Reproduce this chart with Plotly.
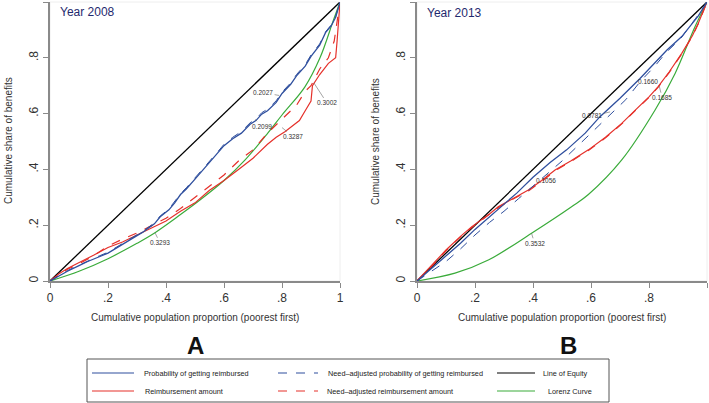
import plotly.graph_objects as go

W, H = 709, 403

# ---- Panel A: 2008 ----
eq_p = [0, 1]
eq_v = [0, 1]

a_lorenz_p = [0, 0.1, 0.2, 0.3, 0.362, 0.45, 0.517, 0.6, 0.672, 0.747, 0.8, 0.879, 0.931, 0.977, 1]
a_lorenz_v = [0, 0.035, 0.08, 0.135, 0.173, 0.238, 0.29, 0.36, 0.433, 0.525, 0.595, 0.696, 0.80, 0.934, 1]

a_prob_p = [0, 0.03, 0.06, 0.1, 0.13, 0.17, 0.2, 0.24, 0.28, 0.32, 0.36, 0.38, 0.41, 0.43, 0.45, 0.47,
            0.5, 0.53, 0.55, 0.58, 0.6, 0.63, 0.66, 0.69, 0.71, 0.73, 0.75, 0.78, 0.8, 0.83, 0.85,
            0.88, 0.9, 0.93, 0.95, 0.97, 0.985, 1]
a_prob_v = [0, 0.018, 0.035, 0.055, 0.07, 0.087, 0.1, 0.125, 0.15, 0.175, 0.205, 0.23, 0.255, 0.28, 0.31, 0.33,
            0.365, 0.4, 0.425, 0.46, 0.485, 0.51, 0.53, 0.562, 0.575, 0.598, 0.61, 0.64, 0.672, 0.705, 0.735,
            0.77, 0.805, 0.845, 0.89, 0.915, 0.945, 1]

a_prob_adj_v = [0, 0.02, 0.037, 0.057, 0.072, 0.09, 0.103, 0.128, 0.153, 0.178, 0.208, 0.233, 0.258, 0.284, 0.313, 0.334,
                0.369, 0.404, 0.43, 0.465, 0.49, 0.515, 0.536, 0.567, 0.58, 0.603, 0.616, 0.646, 0.677, 0.71, 0.74,
                0.775, 0.81, 0.85, 0.893, 0.918, 0.948, 1]

a_reimb_p = [0, 0.03, 0.06, 0.1, 0.15, 0.2, 0.25, 0.3, 0.35, 0.4, 0.45, 0.5, 0.55, 0.6, 0.65, 0.7, 0.75,
             0.78, 0.81, 0.83, 0.86, 0.88, 0.9, 0.905, 0.93, 0.96, 0.985, 0.99, 1]
a_reimb_v = [0, 0.025, 0.045, 0.065, 0.092, 0.12, 0.14, 0.165, 0.19, 0.215, 0.25, 0.28, 0.325, 0.36, 0.4, 0.44, 0.49,
             0.515, 0.535, 0.55, 0.575, 0.61, 0.645, 0.7, 0.74, 0.78, 0.8, 0.86, 1]

a_reimb_adj_p = [0, 0.03, 0.06, 0.1, 0.15, 0.2, 0.25, 0.3, 0.35, 0.4, 0.45, 0.5, 0.55, 0.6, 0.65, 0.7, 0.75,
                 0.8, 0.85, 0.88, 0.9, 0.93, 0.96, 0.98, 1]
a_reimb_adj_v = [0, 0.022, 0.042, 0.062, 0.09, 0.125, 0.15, 0.172, 0.2, 0.225, 0.26, 0.3, 0.34, 0.38, 0.43, 0.47, 0.53,
                 0.58, 0.63, 0.68, 0.70, 0.76, 0.80, 0.86, 1]

# ---- Panel B: 2013 ----
b_lorenz_p = [0, 0.131, 0.246, 0.395, 0.533, 0.591, 0.706, 0.821, 0.89, 0.959, 1]
b_lorenz_v = [0, 0.028, 0.075, 0.171, 0.266, 0.31, 0.434, 0.613, 0.744, 0.912, 1]

b_prob_p = [0, 0.05, 0.1, 0.15, 0.2, 0.25, 0.3, 0.344, 0.4, 0.459, 0.516, 0.58, 0.631, 0.7, 0.769,
            0.82, 0.862, 0.913, 0.97, 1]
b_prob_v = [0, 0.045, 0.09, 0.135, 0.185, 0.23, 0.275, 0.315, 0.372, 0.425, 0.47, 0.53, 0.589, 0.655, 0.726,
            0.78, 0.828, 0.876, 0.95, 1]

b_prob_adj_p = [0, 0.05, 0.1, 0.15, 0.2, 0.25, 0.3, 0.35, 0.4, 0.45, 0.5, 0.55, 0.6, 0.666, 0.72, 0.77,
                0.82, 0.86, 0.91, 0.96, 1]
b_prob_adj_v = [0, 0.035, 0.07, 0.115, 0.165, 0.21, 0.25, 0.295, 0.34, 0.385, 0.43, 0.48, 0.53, 0.595, 0.65, 0.715,
                0.77, 0.82, 0.87, 0.94, 1]

b_reimb_p = [0, 0.05, 0.1, 0.15, 0.189, 0.25, 0.28, 0.33, 0.384, 0.43, 0.476, 0.53, 0.591, 0.65, 0.706,
             0.75, 0.8, 0.831, 0.87, 0.913, 0.95, 0.97, 1]
b_reimb_v = [0, 0.055, 0.111, 0.16, 0.195, 0.24, 0.266, 0.295, 0.326, 0.36, 0.398, 0.43, 0.47, 0.515, 0.565,
             0.61, 0.66, 0.696, 0.75, 0.816, 0.88, 0.924, 1]
b_reimb_adj_v = [0, 0.052, 0.108, 0.158, 0.192, 0.238, 0.263, 0.293, 0.323, 0.357, 0.395, 0.428, 0.468, 0.513, 0.563,
                 0.608, 0.658, 0.694, 0.748, 0.814, 0.878, 0.922, 1]

tick_vals = [0, 0.2, 0.4, 0.6, 0.8, 1]
tick_text = ["0", ".2", ".4", ".6", ".8", "1"]

BLUE = "#2f4f9e"
RED = "#e5302a"
GREEN = "#3aab3a"
BLACK = "#000000"

fig = go.Figure()


def add_panel(xa, ya, lor_p, lor_v, prob_p, prob_v, prob_adj_p, prob_adj_v,
              reimb_p, reimb_v, reimb_adj_p, reimb_adj_v):
    common = dict(xaxis=xa, yaxis=ya, mode="lines", showlegend=False, hoverinfo="skip")
    fig.add_trace(go.Scatter(x=eq_p, y=eq_v, line=dict(color=BLACK, width=1.3), **common))
    fig.add_trace(go.Scatter(x=lor_p, y=lor_v, line=dict(color=GREEN, width=1.2, shape="spline"), **common))
    fig.add_trace(go.Scatter(x=reimb_adj_p, y=reimb_adj_v, line=dict(color=RED, width=1.2, dash="dash"), **common))
    fig.add_trace(go.Scatter(x=reimb_p, y=reimb_v, line=dict(color=RED, width=1.2), **common))
    fig.add_trace(go.Scatter(x=prob_adj_p, y=prob_adj_v, line=dict(color=BLUE, width=1.0, dash="dash"), **common))
    fig.add_trace(go.Scatter(x=prob_p, y=prob_v, line=dict(color=BLUE, width=1.3), **common))


add_panel("x", "y", a_lorenz_p, a_lorenz_v, a_prob_p, a_prob_v, a_prob_p, a_prob_adj_v,
          a_reimb_p, a_reimb_v, a_reimb_adj_p, a_reimb_adj_v)
add_panel("x2", "y2", b_lorenz_p, b_lorenz_v, b_prob_p, b_prob_v, b_prob_adj_p, b_prob_adj_v,
          b_reimb_p, b_reimb_v, b_reimb_p, b_reimb_adj_v)

y_dom = [1 - 281 / H, 1 - 2 / H]
axis_common = dict(range=[0, 1], showgrid=False, zeroline=False, showline=True, automargin=False,
                   linecolor="#8a8a8a", linewidth=1.5, ticks="outside", ticklen=5,
                   tickcolor="#8a8a8a", tickwidth=1.2, tickvals=tick_vals, ticktext=tick_text,
                   tickfont=dict(family="Liberation Sans, Arial", size=12, color="#333333"))

fig.update_layout(
    width=W, height=H,
    margin=dict(l=0, r=0, t=0, b=0, autoexpand=False),
    paper_bgcolor="white", plot_bgcolor="white",
    xaxis=dict(domain=[50 / W, 340 / W], anchor="y", **axis_common),
    yaxis=dict(domain=y_dom, anchor="x", tickangle=-90, **axis_common),
    xaxis2=dict(domain=[417 / W, 707 / W], anchor="y2", **axis_common),
    yaxis2=dict(domain=y_dom, anchor="x2", tickangle=-90, **axis_common),
)

# faint plot-region outline
for xa, ya in [("x", "y"), ("x2", "y2")]:
    fig.add_shape(type="rect", xref=xa + " domain", yref=ya + " domain", x0=0, x1=1, y0=0, y1=1,
                  line=dict(color="#eeeeee", width=1), layer="below")

# value labels on curves: (axis, text, tip x, tip y, ax, ay)
labels = [
    ("x", "y", "0.2027", 0.79, 0.665, -16, -3),
    ("x", "y", "0.2099", 0.707, 0.58, 7, 7),
    ("x", "y", "0.3287", 0.80, 0.55, 11, 9),
    ("x", "y", "0.3002", 0.91, 0.71, 13, 20),
    ("x", "y", "0.3293", 0.362, 0.173, 5, 10),
    ("x2", "y2", "0.0781", 0.666, 0.606, -18, 4),
    ("x2", "y2", "0.1056", 0.45, 0.385, -2, 7),
    ("x2", "y2", "0.1660", 0.83, 0.696, -10, -5),
    ("x2", "y2", "0.1685", 0.835, 0.70, 3, 12),
    ("x2", "y2", "0.3532", 0.395, 0.171, 3, 10),
]
for xa, ya, txt, tx, ty, ax, ay in labels:
    fig.add_annotation(x=tx, y=ty, xref=xa, yref=ya, text=txt, showarrow=True, arrowhead=0,
                       arrowwidth=0.6, arrowcolor="#666666", ax=ax, ay=ay,
                       font=dict(family="Liberation Sans, Arial", size=6.5, color="#333333"))


def px(x, y, xanchor="center", **kw):
    return dict(x=x / W, y=1 - y / H, xref="paper", yref="paper", showarrow=False,
                xanchor=xanchor, yanchor="middle", **kw)


title_font = dict(family="Liberation Sans, Arial", size=10, color="#333333")
fig.add_annotation(**px(8, 141, text="Cumulative share of benefits", textangle=-90, font=title_font))
fig.add_annotation(**px(375, 141, text="Cumulative share of benefits", textangle=-90, font=title_font))
fig.add_annotation(**px(195, 317, text="Cumulative population proportion (poorest first)", font=title_font))
fig.add_annotation(**px(562, 317, text="Cumulative population proportion (poorest first)", font=title_font))

year_font = dict(family="Liberation Sans, Arial", size=12, color="#1f2a6e")
fig.add_annotation(**px(58, 12, text="Year 2008", xanchor="left", font=year_font))
fig.add_annotation(**px(425, 13, text="Year 2013", xanchor="left", font=year_font))

big_font = dict(family="Liberation Sans, Arial", size=24, color="#111111")
fig.add_annotation(**px(195, 345, text="<b>A</b>", font=big_font))
fig.add_annotation(**px(568, 345, text="<b>B</b>", font=big_font))

# legend box drawn in paper coordinates
fig.add_shape(type="rect", xref="paper", yref="paper", x0=87 / W, x1=609 / W,
              y0=1 - 402 / H, y1=1 - 359 / H, line=dict(color="#555555", width=1))

leg_items = [
    ("Probability of getting reimbursed", BLUE, "solid", 92, 134, 142, 373),
    ("Need\u2013adjusted probability of getting reimbursed", BLUE, "dash", 278, 318, 326, 373),
    ("Line of Equity", BLACK, "solid", 497, 535, 541, 373),
    ("Reimbursement amount", RED, "solid", 92, 134, 143, 391),
    ("Need\u2013adjusted reimbursement amount", RED, "dash", 278, 318, 325, 391),
    ("Lorenz Curve", GREEN, "solid", 497, 535, 546, 391),
]
leg_font = dict(family="Liberation Sans Narrow, Arial Narrow, Liberation Sans", size=7.3, color="#222222")
for txt, col, dash, lx0, lx1, tx, ty in leg_items:
    fig.add_shape(type="line", xref="paper", yref="paper", x0=lx0 / W, x1=lx1 / W,
                  y0=1 - ty / H, y1=1 - ty / H, line=dict(color=col, width=1.2, dash=dash))
    fig.add_annotation(**px(tx, ty, text=txt, xanchor="left", font=leg_font))

fig.write_html("out.html", config={"displayModeBar": False},
               post_script="document.body.style.margin='0';")
